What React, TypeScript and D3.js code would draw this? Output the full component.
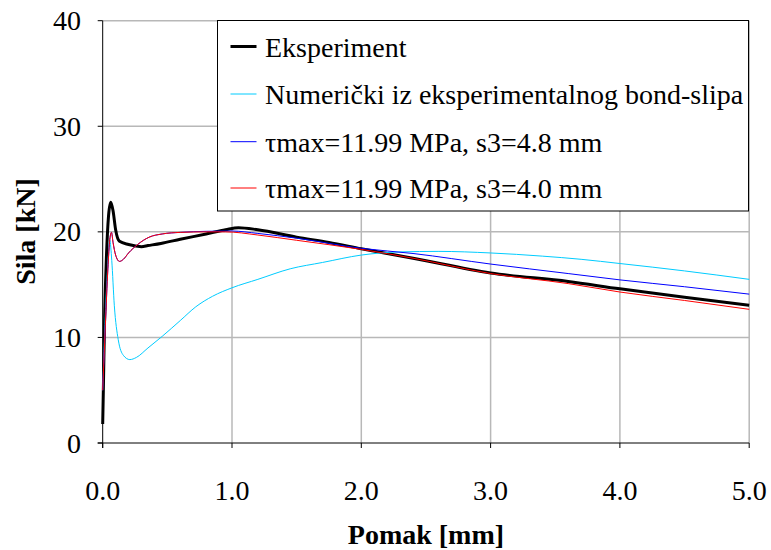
import React from "react";
import * as d3 from "d3";

const xTicks = [0, 1, 2, 3, 4, 5];
const yTicks = [0, 10, 20, 30, 40];

const expX = [0, 0.005, 0.015, 0.03, 0.045, 0.062, 0.08, 0.1, 0.13, 0.2, 0.3, 0.35, 0.45, 0.6, 0.8, 0.95, 1.05, 1.2, 1.5, 1.75, 2.0, 2.4, 3.0, 3.6, 4.0, 4.5, 5.0];
const expY = [1.8, 5, 12, 18, 21.5, 22.8, 22, 20.2, 19.1, 18.8, 18.6, 18.7, 18.9, 19.3, 19.8, 20.2, 20.4, 20.2, 19.5, 19.0, 18.4, 17.5, 16.1, 15.3, 14.6, 13.8, 13.05];

const numX = [0, 0.02, 0.04, 0.055, 0.07, 0.09, 0.12, 0.16, 0.21, 0.26, 0.35, 0.46, 0.6, 0.72, 0.85, 1.0, 1.2, 1.45, 1.7, 2.0, 2.3, 2.6, 3.0, 3.4, 3.7, 4.0, 4.5, 5.0];
const numY = [5, 12, 17, 19.2, 17.3, 13, 9.8, 8.3, 7.9, 8.1, 9.0, 10.1, 11.6, 12.9, 13.9, 14.7, 15.5, 16.5, 17.1, 17.8, 18.1, 18.15, 18.0, 17.7, 17.4, 17.0, 16.3, 15.5];

const s48X = [0, 0.02, 0.04, 0.055, 0.068, 0.08, 0.1, 0.13, 0.16, 0.2, 0.27, 0.36, 0.46, 0.6, 0.8, 1.0, 1.2, 1.5, 2.0, 2.4, 3.0, 3.6, 4.0, 4.5, 5.0];
const s48Y = [5, 11, 16.5, 19.3, 19.95, 19, 17.8, 17.2, 17.4, 18, 18.8, 19.5, 19.8, 19.95, 20.05, 20.08, 19.85, 19.4, 18.44, 17.95, 16.95, 16.05, 15.45, 14.8, 14.1];

const s40X = [0, 0.02, 0.04, 0.055, 0.068, 0.08, 0.1, 0.13, 0.16, 0.2, 0.27, 0.36, 0.46, 0.6, 0.8, 0.95, 1.2, 1.5, 2.0, 2.4, 3.0, 3.6, 4.0, 4.5, 5.0];
const s40Y = [5, 11, 16.5, 19.3, 19.95, 19, 17.8, 17.2, 17.4, 18, 18.8, 19.5, 19.8, 19.95, 20.0, 20.0, 19.7, 19.2, 18.34, 17.5, 16.05, 15.1, 14.3, 13.5, 12.66];

const seriesNames = [
  "Eksperiment",
  "Numerički iz eksperimentalnog bond-slipa",
  "τmax=11.99 MPa, s3=4.8 mm",
  "τmax=11.99 MPa, s3=4.0 mm",
];
const seriesColors = ["#000000", "#00CCFF", "#0000FF", "#FF0000"];
const seriesWidths = [3, 1, 1, 1];

const W = 771;
const H = 550;
const left = 102.7;
const right = 749.2;
const top = 20.7;
const bottom = 443;

export default function App() {
  const x = d3.scaleLinear().domain([0, 5]).range([left, right]);
  const y = d3.scaleLinear().domain([0, 40]).range([bottom, top]);
  const data = [
    d3.zip(expX, expY),
    d3.zip(numX, numY),
    d3.zip(s48X, s48Y),
    d3.zip(s40X, s40Y),
  ] as [number, number][][];
  const line = d3
    .line<[number, number]>()
    .x((d) => x(d[0]))
    .y((d) => y(d[1]))
    .curve(d3.curveMonotoneX);
  const fontStyle = { fontFamily: "Liberation Serif, Tinos, Times New Roman, DejaVu Serif, serif" };
  const legRows = [46.5, 94, 141.7, 188];
  return (
    <div style={{ position: "absolute", left: 0, top: 0 }}>
      <svg width={W} height={H} style={{ display: "block", background: "#fff" }}>
        {yTicks.filter((t) => t > 0).map((t) => (
          <line key={"gy" + t} x1={left} x2={right} y1={y(t)} y2={y(t)} stroke="#b8b8b8" strokeWidth={1.5} />
        ))}
        {xTicks.filter((t) => t > 0).map((t) => (
          <line key={"gx" + t} x1={x(t)} x2={x(t)} y1={top} y2={bottom} stroke="#b8b8b8" strokeWidth={1.5} />
        ))}
        <line x1={left} x2={left} y1={top} y2={bottom + 5} stroke="#000" strokeWidth={1} />
        <line x1={left - 5} x2={right} y1={bottom} y2={bottom} stroke="#000" strokeWidth={1} />
        {yTicks.map((t) => (
          <g key={"yt" + t}>
            <line x1={left - 5} x2={left} y1={y(t)} y2={y(t)} stroke="#000" />
            <text x={81} y={y(t)} dy="0.34em" textAnchor="end" style={fontStyle} fontSize={28}>
              {t}
            </text>
          </g>
        ))}
        {xTicks.map((t) => (
          <g key={"xt" + t}>
            <line x1={x(t)} x2={x(t)} y1={bottom} y2={bottom + 5} stroke="#000" />
            <text x={x(t)} y={499.5} textAnchor="middle" style={fontStyle} fontSize={28}>
              {t.toFixed(1)}
            </text>
          </g>
        ))}
        {data.map((d, i) => (
          <path key={"s" + i} d={line(d) || ""} fill="none" stroke={seriesColors[i]} strokeWidth={seriesWidths[i]} strokeLinejoin="round" />
        ))}
        <rect x={217.5} y={20.5} width={531} height={190.5} fill="#fff" stroke="#000" strokeWidth={1} />
        {seriesNames.map((n, i) => (
          <g key={"l" + i}>
            <line x1={230.5} x2={256.5} y1={legRows[i]} y2={legRows[i]} stroke={seriesColors[i]} strokeWidth={seriesWidths[i]} />
            <text x={265} y={legRows[i] + 0.5} dy="0.34em" style={fontStyle} fontSize={28}>
              {n}
            </text>
          </g>
        ))}
        <text x={(left + right) / 2} y={544} textAnchor="middle" style={fontStyle} fontSize={28} fontWeight="bold">
          Pomak [mm]
        </text>
        <text transform={`translate(34.5, 231.5) rotate(-90)`} textAnchor="middle" style={fontStyle} fontSize={28} fontWeight="bold">
          Sila [kN]
        </text>
      </svg>
    </div>
  );
}
